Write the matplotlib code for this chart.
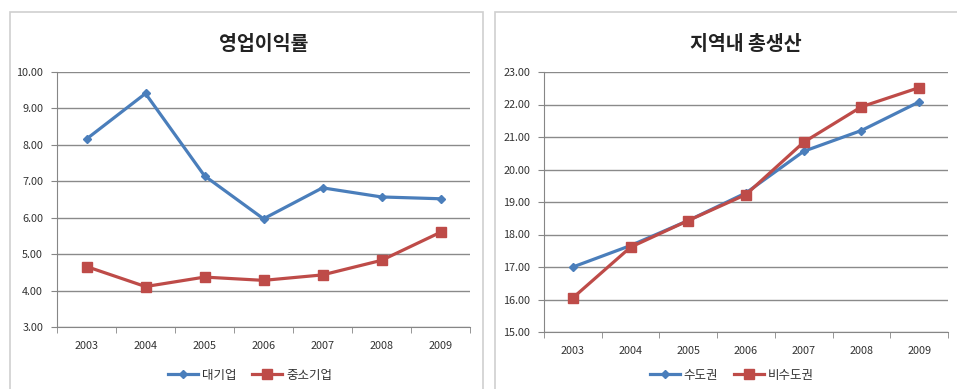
import matplotlib.pyplot as plt
from matplotlib.patches import Rectangle

plt.rcParams['font.family'] = ['Noto Sans CJK KR', 'DejaVu Sans']

years = ['2003', '2004', '2005', '2006', '2007', '2008', '2009']

# 영업이익률
large = [8.16, 9.41, 7.15, 5.97, 6.82, 6.57, 6.52]
small = [4.66, 4.11, 4.37, 4.28, 4.43, 4.83, 5.60]

# 지역내 총생산
capital = [17.00, 17.66, 18.43, 19.28, 20.56, 21.20, 22.08]
noncapital = [16.05, 17.61, 18.43, 19.23, 20.84, 21.93, 22.52]

blue = '#4A7EBB'
red = '#BE4B48'
W, H = 957, 389

fig = plt.figure(figsize=(W / 100, H / 100), dpi=100)

# panel borders
for x0, x1 in [(10, 483), (495, 960)]:
    fig.patches.append(Rectangle((x0 / W, -0.1), (x1 - x0) / W, 1.1 - 12 / H,
                                 transform=fig.transFigure, fill=False,
                                 edgecolor='#cfcfcf', linewidth=1.2))


def make_chart(px, title, s1, s2, names, ymin, ymax, legx):
    l, r, t, b = px
    ax = fig.add_axes([l / W, 1 - b / H, (r - l) / W, (b - t) / H])
    x = range(len(years))
    ax.plot(x, s1, color=blue, lw=2.3, marker='D', ms=4.5, label=names[0])
    ax.plot(x, s2, color=red, lw=2.3, marker='s', ms=6.5, label=names[1])
    ax.set_xlim(-0.5, len(years) - 0.5)
    ax.set_ylim(ymin, ymax)
    ax.set_yticks(range(ymin, ymax + 1))
    ax.set_yticklabels(['%.2f' % v for v in range(ymin, ymax + 1)])
    ax.set_xticks(list(x))
    ax.set_xticklabels(years)
    ax.set_xticks([i - 0.5 for i in range(len(years) + 1)], minor=True)
    ax.tick_params(axis='x', which='major', length=0, pad=10)
    ax.tick_params(axis='x', which='minor', length=4, color='#868686', direction='out')
    ax.tick_params(axis='y', length=4, color='#868686', direction='out', pad=6)
    ax.tick_params(labelsize=7.8, labelcolor='#333333')
    ax.grid(axis='y', color='#8a8a8a', lw=1.0)
    ax.set_axisbelow(True)
    for s in ['top', 'right']:
        ax.spines[s].set_visible(False)
    for s in ['left', 'bottom']:
        ax.spines[s].set_color('#868686')
    fig.text((l + r) / 2 / W, 1 - 45 / H, title, ha='center', va='center',
             fontsize=14, fontweight='bold', color='#222222')
    fig.legend(handles=ax.get_lines(), loc='center', ncol=2,
               bbox_to_anchor=(legx / W, 1 - 375 / H), frameon=False,
               fontsize=9, handlelength=2.4, columnspacing=1.3,
               handletextpad=0.3, labelcolor='#333333')
    return ax


make_chart((57, 470, 72, 327), '영업이익률', large, small,
           ['대기업', '중소기업'], 3, 10, 250)
make_chart((544, 948, 72, 332), '지역내 총생산', capital, noncapital,
           ['수도권', '비수도권'], 15, 23, 732)

fig.savefig('out.png', dpi=100)
